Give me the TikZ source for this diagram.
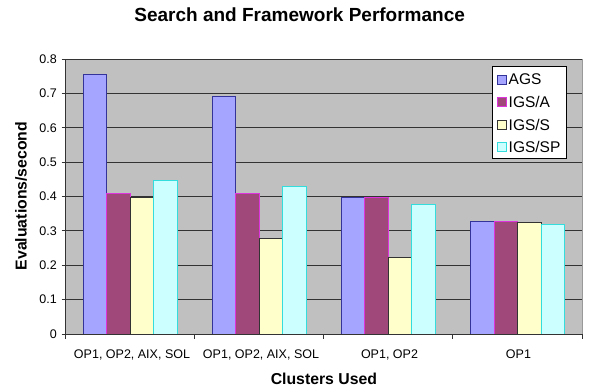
\documentclass[tikz,border=0pt]{standalone}
\usepackage{fontspec}
\setmainfont{Liberation Sans}
\definecolor{plotbg}{HTML}{C0C0C0}
\definecolor{agsfill}{HTML}{A5A5FF}
\definecolor{agsline}{HTML}{333399}
\definecolor{igsafill}{HTML}{A0487A}
\definecolor{igsaline}{HTML}{DD33DD}
\definecolor{igssfill}{HTML}{FFFFCC}
\definecolor{igssline}{HTML}{333333}
\definecolor{igsspfill}{HTML}{CCFFFF}
\definecolor{igsspline}{HTML}{33DDDD}
\begin{document}
\begin{tikzpicture}[x=1pt,y=-1pt,
  barbox/.style={line width=1pt},
  ags/.style={barbox,fill=agsfill,draw=agsline},
  igsa/.style={barbox,fill=igsafill,draw=igsaline},
  igss/.style={barbox,fill=igssfill,draw=igssline},
  igssp/.style={barbox,fill=igsspfill,draw=igsspline},
  gridline/.style={draw=black!80,line width=0.9pt},
  axisline/.style={draw=black!80,line width=0.9pt},
  ticklab/.style={font=\fontsize{12.5}{14}\selectfont,inner sep=0pt},
  axtitle/.style={font=\fontsize{15.8}{18}\selectfont\bfseries,inner sep=0pt},
  legtext/.style={font=\fontsize{15.5}{18}\selectfont,anchor=west,inner sep=0pt},
  legmark/.style={line width=0.8pt,minimum size=9pt,inner sep=0pt}]
\useasboundingbox (0,0) rectangle (589,391);
\fill[white] (0,0) rectangle (589,391);
% plot area
\fill[plotbg] (65.7,59) rectangle (582,334);
\draw[black!40,line width=0.8pt] (65.7,59) -- (582,59) -- (582,334);
% gridlines and y ticks
\foreach \v in {1,...,8}{
  \pgfmathsetmacro\yy{334-\v*34.375}
  \draw[gridline] (61.5,\yy) -- (582,\yy);
  \node[ticklab,anchor=east] at (57,\yy) {0.\v};
}
\draw[axisline] (61.5,334) -- (65.7,334);
\node[ticklab,anchor=east] at (57,334) {0};
% bars
\foreach \g/\a/\b/\c/\d in {0/0.756/0.41/0.396/0.448, 1/0.692/0.41/0.279/0.43, 2/0.396/0.396/0.224/0.378, 3/0.326/0.326/0.323/0.32}{
  \pgfmathsetmacro\gx{65.7+129.075*\g+17.6}
  \pgfmathsetmacro\ya{334-\a*343.75}
  \pgfmathsetmacro\yb{334-\b*343.75}
  \pgfmathsetmacro\yc{334-\c*343.75}
  \pgfmathsetmacro\yd{334-\d*343.75}
  \draw[ags] (\gx,334) rectangle ({\gx+23.5},\ya);
  \draw[igsa] ({\gx+23.5},334) rectangle ({\gx+47},\yb);
  \draw[igss] ({\gx+47},334) rectangle ({\gx+70.5},\yc);
  \draw[igssp] ({\gx+70.5},334) rectangle ({\gx+94},\yd);
}
% axes
\draw[axisline] (65.7,59) -- (65.7,334) -- (582,334);
\foreach \g in {0,...,4}{
  \draw[axisline] ({65.7+129.075*\g},334) -- ({65.7+129.075*\g},339);
}
% category labels
\node[ticklab] (c1) at (132,354.5) {OP1, OP2, AIX, SOL};
\node[ticklab] (c2) at (261,354.5) {OP1, OP2, AIX, SOL};
\node[ticklab] (c3) at (389.5,354.5) {OP1, OP2};
\node[ticklab] (c4) at (518.5,354.5) {OP1};
% titles
\node[font=\fontsize{19}{22}\selectfont\bfseries,inner sep=0pt] (title) at (299.7,15) {Search and Framework Performance};
\node[axtitle] (xt) at (323.9,378.5) {Clusters Used};
\node[axtitle,rotate=90] (yt) at (21,196) {Evaluations/second};
% legend
\draw[fill=white,draw=black,line width=0.8pt] (492.3,66) rectangle (566,158);
\node[legmark,fill=agsfill,draw=agsline] (m1) at (501.5,79.5) {};
\node[legmark,fill=igsafill,draw=igsaline] (m2) at (501.5,102) {};
\node[legmark,fill=igssfill,draw=igssline] (m3) at (501.5,124.5) {};
\node[legmark,fill=igsspfill,draw=igsspline] (m4) at (501.5,147) {};
\node[legtext] (l1) at (508.5,79.5) {AGS};
\node[legtext] (l2) at (508.5,102) {IGS/A};
\node[legtext] (l3) at (508.5,124.5) {IGS/S};
\node[legtext] (l4) at (508.5,147) {IGS/SP};
\end{tikzpicture}
\end{document}
